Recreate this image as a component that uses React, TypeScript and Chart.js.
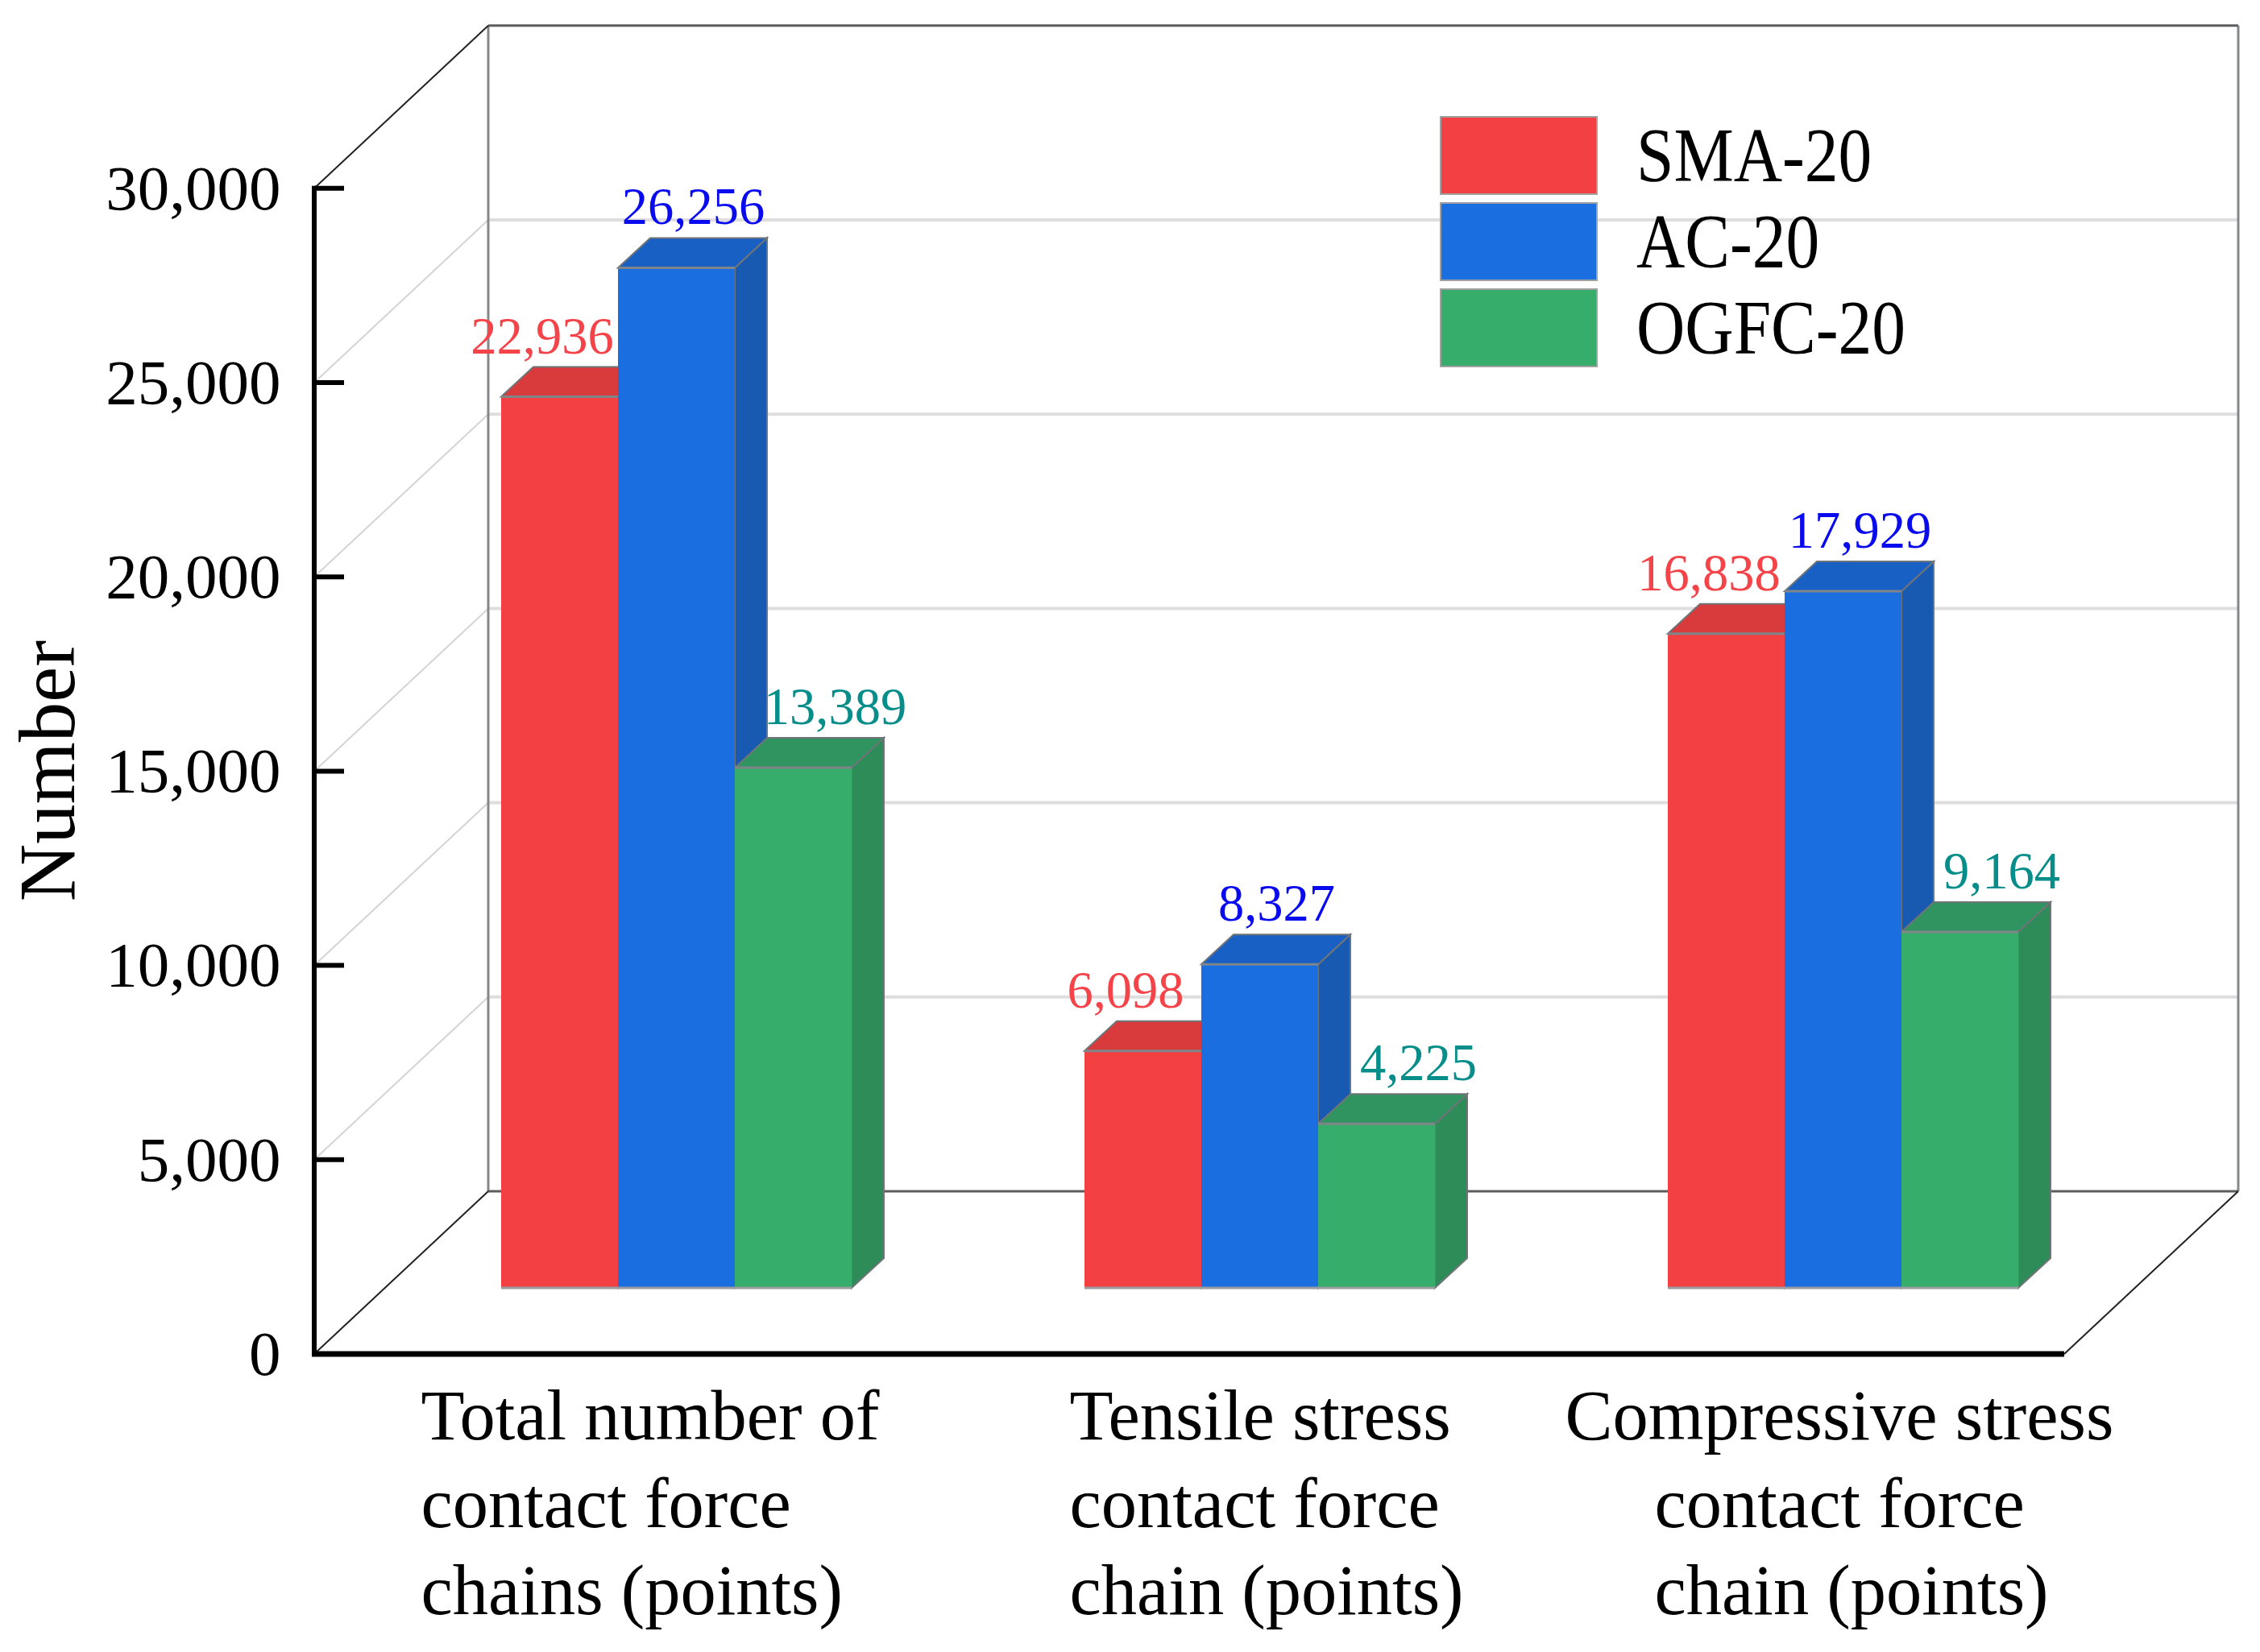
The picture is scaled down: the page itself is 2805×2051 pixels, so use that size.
import React, { useEffect, useRef } from "react";
import { Chart, registerables } from "chart.js";

Chart.register(...registerables);

const categoryLines = [
  ["Total number of", "contact force", "chains (points)"],
  ["Tensile stress", "contact force", "chain (points)"],
  ["Compressive stress", "contact force", "chain (points)"],
];
const categoryLineOffsets = [
  [-317, -317, -317],
  [-236, -236, -236],
  [-345, -234, -234],
];
const categories = ["Total", "Tensile", "Compressive"];
const sma20 = [22936, 6098, 16838];
const ac20 = [26256, 8327, 17929];
const ogfc20 = [13389, 4225, 9164];
const seriesNames = ["SMA-20", "AC-20", "OGFC-20"];
const frontColors = ["#F34042", "#1A6EDF", "#36AD6A"];
const topColors = ["#D93A3B", "#1860C4", "#2F9460"];
const sideColors = ["#C93436", "#1859B2", "#2E8C58"];
const labelColors = ["#F4444A", "#0A0AEE", "#078E8A"];
const labelDx = [-21.5, 21, 52];
const yTickValues = [0, 5000, 10000, 15000, 20000, 25000, 30000];

const SERIF = '"Liberation Serif", serif';
const PX_PER_UNIT = 241.2 / 5000;
const AREA_LEFT = 477.5;
const AREA_RIGHT = 2649.5;
const AREA_TOP = 32;
const AREA_BOTTOM = 1681;
const BAR_SHIFT_X = 87.5;
const BAR_SHIFT_Y = 82;
const WALL_DX = 216;
const WALL_DY = 202;
const BAR_DX = 40;
const BAR_DY = 37;

function line(ctx: CanvasRenderingContext2D, x1: number, y1: number, x2: number, y2: number, color: string, w: number) {
  ctx.strokeStyle = color;
  ctx.lineWidth = w;
  ctx.beginPath();
  ctx.moveTo(x1, y1);
  ctx.lineTo(x2, y2);
  ctx.stroke();
}

function poly(ctx: CanvasRenderingContext2D, pts: number[][], fill: string) {
  ctx.fillStyle = fill;
  ctx.strokeStyle = "#6f7478";
  ctx.lineWidth = 2;
  ctx.beginPath();
  pts.forEach((p, i) => (i ? ctx.lineTo(p[0], p[1]) : ctx.moveTo(p[0], p[1])));
  ctx.closePath();
  ctx.fill();
  ctx.stroke();
}

const scenePlugin = {
  id: "scene3d",
  beforeDatasetsDraw(chart: any) {
    const ctx: CanvasRenderingContext2D = chart.ctx;
    const yF = chart.scales.yF;
    const ca = chart.chartArea;
    const fl = ca.left - BAR_SHIFT_X;
    const fr = ca.right - BAR_SHIFT_X;
    const y0 = yF.getPixelForValue(yTickValues[0]);
    const yMax = yF.getPixelForValue(yTickValues[yTickValues.length - 1]);
    const bl = fl + WALL_DX;
    const br = fr + WALL_DX;
    ctx.save();
    // side wall and back wall grid
    yTickValues.slice(1, -1).forEach((v) => {
      const py = yF.getPixelForValue(v);
      line(ctx, fl, py, bl, py - WALL_DY, "#d4d4d4", 2);
      line(ctx, bl, py - WALL_DY, br, py - WALL_DY, "#dedede", 4);
    });
    // wall frame
    line(ctx, bl, yMax - WALL_DY, bl, y0 - WALL_DY, "#85888a", 3);
    line(ctx, br, yMax - WALL_DY, br, y0 - WALL_DY, "#85888a", 3);
    line(ctx, bl, yMax - WALL_DY, br, yMax - WALL_DY, "#5c5c5c", 3);
    line(ctx, bl, y0 - WALL_DY, br, y0 - WALL_DY, "#5c5c5c", 3);
    line(ctx, fl, yMax, bl, yMax - WALL_DY, "#222", 2);
    line(ctx, fl, y0, bl, y0 - WALL_DY, "#222", 2);
    line(ctx, fr, y0, br, y0 - WALL_DY, "#222", 2);
    // front axes
    line(ctx, fl, yMax - 3, fl, y0, "#000", 6);
    line(ctx, fl - 3, y0, fr, y0, "#000", 7);
    yTickValues.slice(1).forEach((v) => {
      const py = yF.getPixelForValue(v);
      line(ctx, fl, py, fl + 37, py, "#000", 6);
    });
    // 3D faces, left to right; library bars (front faces) go over them
    const bars: { ds: number; el: any }[] = [];
    chart.data.datasets.forEach((_: any, ds: number) => {
      chart.getDatasetMeta(ds).data.forEach((el: any) => bars.push({ ds, el }));
    });
    bars.sort((a, b) => a.el.x - b.el.x);
    bars.forEach(({ ds, el }) => {
      const left = el.x - el.width / 2;
      const right = el.x + el.width / 2;
      const top = el.y;
      const base = el.base;
      poly(ctx, [[right, top], [right + BAR_DX, top - BAR_DY], [right + BAR_DX, base - BAR_DY], [right, base]], sideColors[ds]);
      poly(ctx, [[left, top], [left + BAR_DX, top - BAR_DY], [right + BAR_DX, top - BAR_DY], [right, top]], topColors[ds]);
    });
    ctx.restore();
  },
  afterDatasetsDraw(chart: any) {
    const ctx: CanvasRenderingContext2D = chart.ctx;
    const x = chart.scales.x;
    ctx.save();
    // grey top and bottom edges of the front faces
    chart.data.datasets.forEach((_: any, ds: number) => {
      chart.getDatasetMeta(ds).data.forEach((el: any) => {
        const left = el.x - el.width / 2;
        const right = el.x + el.width / 2;
        line(ctx, left, el.y, right, el.y, "#80858a", 3);
        line(ctx, left, el.base, right, el.base, "#9a9ea2", 3);
      });
    });
    // value labels
    ctx.font = `64.5px ${SERIF}`;
    ctx.textAlign = "center";
    ctx.textBaseline = "alphabetic";
    chart.data.datasets.forEach((d: any, ds: number) => {
      chart.getDatasetMeta(ds).data.forEach((el: any, i: number) => {
        ctx.fillStyle = labelColors[ds];
        ctx.fillText(d.data[i].toLocaleString("en-US"), el.x + labelDx[ds], el.y - 54);
      });
    });
    // category labels
    ctx.font = `88.5px ${SERIF}`;
    ctx.textAlign = "left";
    ctx.fillStyle = "#000";
    categoryLines.forEach((lines, i) => {
      const cx = x.getPixelForValue(i);
      lines.forEach((t, j) => ctx.fillText(t, cx + categoryLineOffsets[i][j], 1787 + j * 108.5));
    });
    // axis title
    ctx.save();
    ctx.translate(92, 957);
    ctx.rotate(-Math.PI / 2);
    ctx.textAlign = "center";
    ctx.font = `99px ${SERIF}`;
    ctx.fillText("Number", 0, 0);
    ctx.restore();
    // legend
    seriesNames.forEach((name, i) => {
      const top = 145 + i * 107;
      ctx.fillStyle = frontColors[i];
      ctx.strokeStyle = "#a0a0a0";
      ctx.lineWidth = 2;
      ctx.fillRect(1788, top, 194, 96);
      ctx.strokeRect(1788, top, 194, 96);
      ctx.save();
      ctx.translate(2031, top + 80);
      ctx.scale(0.87, 1);
      ctx.font = `96px ${SERIF}`;
      ctx.fillStyle = "#000";
      ctx.fillText(name, 0, 0);
      ctx.restore();
    });
    ctx.restore();
  },
};

export default function App() {
  const ref = useRef<HTMLCanvasElement | null>(null);
  useEffect(() => {
    document.body.style.margin = "0";
    const areaH = AREA_BOTTOM - AREA_TOP;
    const chart = new Chart(ref.current as HTMLCanvasElement, {
      type: "bar",
      data: {
        labels: categories,
        datasets: [sma20, ac20, ogfc20].map((data, i) => ({
          label: seriesNames[i],
          data,
          yAxisID: "y",
          backgroundColor: frontColors[i],
          borderWidth: 0,
          barPercentage: 1,
          categoryPercentage: 435 / 724,
        })),
      },
      options: {
        responsive: false,
        devicePixelRatio: 1,
        animation: false,
        layout: {
          padding: {
            left: 0,
            top: AREA_TOP,
            right: 2805 - AREA_RIGHT,
            bottom: 2051 - AREA_BOTTOM,
          },
        },
        plugins: { legend: { display: false }, tooltip: { enabled: false }, title: { display: false } },
        scales: {
          x: { display: false, offset: true, grid: { display: false } },
          y: {
            display: false,
            bounds: "data",
            min: -BAR_SHIFT_Y / PX_PER_UNIT,
            max: (areaH - BAR_SHIFT_Y) / PX_PER_UNIT,
          },
          yF: {
            position: "left",
            bounds: "data",
            min: 0,
            max: areaH / PX_PER_UNIT,
            border: { display: false },
            grid: { display: false, drawTicks: false },
            afterBuildTicks(scale: any) {
              scale.ticks = yTickValues.map((value) => ({ value }));
            },
            afterFit(scale: any) {
              scale.width = AREA_LEFT;
              scale.paddingTop = 0;
              scale.paddingBottom = 0;
            },
            ticks: {
              padding: 129,
              labelOffset: 5,
              autoSkip: false,
              color: "#000",
              font: { family: SERIF, size: 79 },
              callback: (v: any) => Number(v).toLocaleString("en-US"),
            },
          },
        },
      } as any,
      plugins: [scenePlugin],
    });
    return () => chart.destroy();
  }, []);
  return <canvas ref={ref} width={2805} height={2051} style={{ display: "block" }} />;
}
